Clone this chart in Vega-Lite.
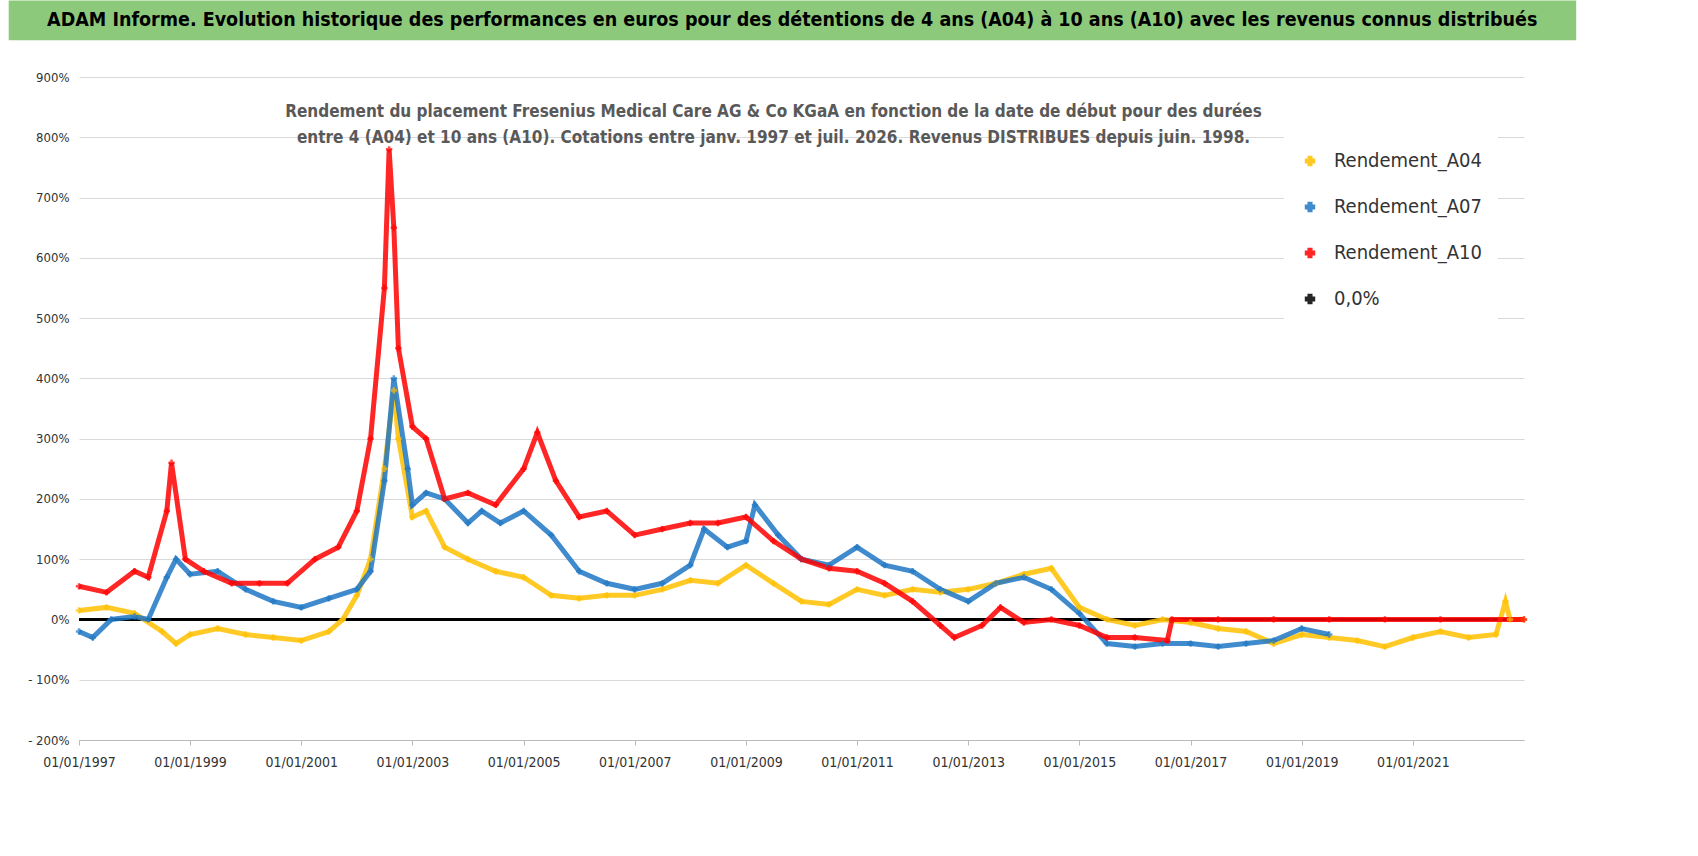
{
  "$schema": "https://vega.github.io/schema/vega-lite/v6.json",
  "background": "white",
  "padding": {"left": 8, "top": 0, "right": 0, "bottom": 0},
  "autosize": {"type": "pad"},
  "width": 1445,
  "height": 663,
  "config": {"font": "DejaVu Sans Condensed", "view": {"stroke": null}},
  "datasets": {
    "pts": [
      {"d":"1997-01-01","s":"Rendement_A04","v":15},{"d":"1997-07-01","s":"Rendement_A04","v":20},{"d":"1998-01-01","s":"Rendement_A04","v":10},{"d":"1998-07-01","s":"Rendement_A04","v":-20},{"d":"1998-10-01","s":"Rendement_A04","v":-40},{"d":"1999-01-01","s":"Rendement_A04","v":-25},{"d":"1999-07-01","s":"Rendement_A04","v":-15},{"d":"2000-01-01","s":"Rendement_A04","v":-25},{"d":"2000-07-01","s":"Rendement_A04","v":-30},{"d":"2001-01-01","s":"Rendement_A04","v":-35},{"d":"2001-07-01","s":"Rendement_A04","v":-20},{"d":"2001-10-01","s":"Rendement_A04","v":0},{"d":"2002-01-01","s":"Rendement_A04","v":40},{"d":"2002-04-01","s":"Rendement_A04","v":100},{"d":"2002-07-01","s":"Rendement_A04","v":250},{"d":"2002-09-01","s":"Rendement_A04","v":380},{"d":"2002-10-01","s":"Rendement_A04","v":300},{"d":"2003-01-01","s":"Rendement_A04","v":170},{"d":"2003-04-01","s":"Rendement_A04","v":180},{"d":"2003-08-01","s":"Rendement_A04","v":120},{"d":"2004-01-01","s":"Rendement_A04","v":100},{"d":"2004-07-01","s":"Rendement_A04","v":80},{"d":"2005-01-01","s":"Rendement_A04","v":70},{"d":"2005-07-01","s":"Rendement_A04","v":40},{"d":"2006-01-01","s":"Rendement_A04","v":35},{"d":"2006-07-01","s":"Rendement_A04","v":40},{"d":"2007-01-01","s":"Rendement_A04","v":40},{"d":"2007-07-01","s":"Rendement_A04","v":50},{"d":"2008-01-01","s":"Rendement_A04","v":65},{"d":"2008-07-01","s":"Rendement_A04","v":60},{"d":"2009-01-01","s":"Rendement_A04","v":90},{"d":"2009-07-01","s":"Rendement_A04","v":60},{"d":"2010-01-01","s":"Rendement_A04","v":30},{"d":"2010-07-01","s":"Rendement_A04","v":25},{"d":"2011-01-01","s":"Rendement_A04","v":50},{"d":"2011-07-01","s":"Rendement_A04","v":40},{"d":"2012-01-01","s":"Rendement_A04","v":50},{"d":"2012-07-01","s":"Rendement_A04","v":45},{"d":"2013-01-01","s":"Rendement_A04","v":50},{"d":"2013-07-01","s":"Rendement_A04","v":60},{"d":"2014-01-01","s":"Rendement_A04","v":75},{"d":"2014-07-01","s":"Rendement_A04","v":85},{"d":"2015-01-01","s":"Rendement_A04","v":20},{"d":"2015-07-01","s":"Rendement_A04","v":0},{"d":"2016-01-01","s":"Rendement_A04","v":-10},{"d":"2016-07-01","s":"Rendement_A04","v":0},{"d":"2017-01-01","s":"Rendement_A04","v":-5},{"d":"2017-07-01","s":"Rendement_A04","v":-15},{"d":"2018-01-01","s":"Rendement_A04","v":-20},{"d":"2018-07-01","s":"Rendement_A04","v":-40},{"d":"2019-01-01","s":"Rendement_A04","v":-25},{"d":"2019-07-01","s":"Rendement_A04","v":-30},{"d":"2020-01-01","s":"Rendement_A04","v":-35},{"d":"2020-07-01","s":"Rendement_A04","v":-45},{"d":"2021-01-01","s":"Rendement_A04","v":-30},{"d":"2021-07-01","s":"Rendement_A04","v":-20},{"d":"2022-01-01","s":"Rendement_A04","v":-30},{"d":"2022-07-01","s":"Rendement_A04","v":-25},{"d":"2022-09-01","s":"Rendement_A04","v":30},{"d":"2022-10-01","s":"Rendement_A04","v":0},{"d":"2023-01-01","s":"Rendement_A04","v":0},

      {"d":"1997-01-01","s":"Rendement_A07","v":-20},{"d":"1997-04-01","s":"Rendement_A07","v":-30},{"d":"1997-08-01","s":"Rendement_A07","v":0},{"d":"1998-01-01","s":"Rendement_A07","v":5},{"d":"1998-04-01","s":"Rendement_A07","v":0},{"d":"1998-08-01","s":"Rendement_A07","v":70},{"d":"1998-10-01","s":"Rendement_A07","v":100},{"d":"1999-01-01","s":"Rendement_A07","v":75},{"d":"1999-07-01","s":"Rendement_A07","v":80},{"d":"2000-01-01","s":"Rendement_A07","v":50},{"d":"2000-07-01","s":"Rendement_A07","v":30},{"d":"2001-01-01","s":"Rendement_A07","v":20},{"d":"2001-07-01","s":"Rendement_A07","v":35},{"d":"2002-01-01","s":"Rendement_A07","v":50},{"d":"2002-04-01","s":"Rendement_A07","v":80},{"d":"2002-07-01","s":"Rendement_A07","v":230},{"d":"2002-09-01","s":"Rendement_A07","v":400},{"d":"2002-12-01","s":"Rendement_A07","v":250},{"d":"2003-01-01","s":"Rendement_A07","v":190},{"d":"2003-04-01","s":"Rendement_A07","v":210},{"d":"2003-08-01","s":"Rendement_A07","v":200},{"d":"2004-01-01","s":"Rendement_A07","v":160},{"d":"2004-04-01","s":"Rendement_A07","v":180},{"d":"2004-08-01","s":"Rendement_A07","v":160},{"d":"2005-01-01","s":"Rendement_A07","v":180},{"d":"2005-07-01","s":"Rendement_A07","v":140},{"d":"2006-01-01","s":"Rendement_A07","v":80},{"d":"2006-07-01","s":"Rendement_A07","v":60},{"d":"2007-01-01","s":"Rendement_A07","v":50},{"d":"2007-07-01","s":"Rendement_A07","v":60},{"d":"2008-01-01","s":"Rendement_A07","v":90},{"d":"2008-04-01","s":"Rendement_A07","v":150},{"d":"2008-09-01","s":"Rendement_A07","v":120},{"d":"2009-01-01","s":"Rendement_A07","v":130},{"d":"2009-03-01","s":"Rendement_A07","v":190},{"d":"2009-08-01","s":"Rendement_A07","v":140},{"d":"2010-01-01","s":"Rendement_A07","v":100},{"d":"2010-07-01","s":"Rendement_A07","v":90},{"d":"2011-01-01","s":"Rendement_A07","v":120},{"d":"2011-07-01","s":"Rendement_A07","v":90},{"d":"2012-01-01","s":"Rendement_A07","v":80},{"d":"2012-07-01","s":"Rendement_A07","v":50},{"d":"2013-01-01","s":"Rendement_A07","v":30},{"d":"2013-07-01","s":"Rendement_A07","v":60},{"d":"2014-01-01","s":"Rendement_A07","v":70},{"d":"2014-07-01","s":"Rendement_A07","v":50},{"d":"2015-01-01","s":"Rendement_A07","v":10},{"d":"2015-07-01","s":"Rendement_A07","v":-40},{"d":"2016-01-01","s":"Rendement_A07","v":-45},{"d":"2016-07-01","s":"Rendement_A07","v":-40},{"d":"2017-01-01","s":"Rendement_A07","v":-40},{"d":"2017-07-01","s":"Rendement_A07","v":-45},{"d":"2018-01-01","s":"Rendement_A07","v":-40},{"d":"2018-07-01","s":"Rendement_A07","v":-35},{"d":"2019-01-01","s":"Rendement_A07","v":-15},{"d":"2019-07-01","s":"Rendement_A07","v":-25},

      {"d":"1997-01-01","s":"Rendement_A10","v":55},{"d":"1997-07-01","s":"Rendement_A10","v":45},{"d":"1998-01-01","s":"Rendement_A10","v":80},{"d":"1998-04-01","s":"Rendement_A10","v":70},{"d":"1998-08-01","s":"Rendement_A10","v":180},{"d":"1998-09-01","s":"Rendement_A10","v":260},{"d":"1998-12-01","s":"Rendement_A10","v":100},{"d":"1999-04-01","s":"Rendement_A10","v":80},{"d":"1999-10-01","s":"Rendement_A10","v":60},{"d":"2000-04-01","s":"Rendement_A10","v":60},{"d":"2000-10-01","s":"Rendement_A10","v":60},{"d":"2001-04-01","s":"Rendement_A10","v":100},{"d":"2001-09-01","s":"Rendement_A10","v":120},{"d":"2002-01-01","s":"Rendement_A10","v":180},{"d":"2002-04-01","s":"Rendement_A10","v":300},{"d":"2002-07-01","s":"Rendement_A10","v":550},{"d":"2002-08-01","s":"Rendement_A10","v":780},{"d":"2002-09-01","s":"Rendement_A10","v":650},{"d":"2002-10-01","s":"Rendement_A10","v":450},{"d":"2003-01-01","s":"Rendement_A10","v":320},{"d":"2003-04-01","s":"Rendement_A10","v":300},{"d":"2003-08-01","s":"Rendement_A10","v":200},{"d":"2004-01-01","s":"Rendement_A10","v":210},{"d":"2004-07-01","s":"Rendement_A10","v":190},{"d":"2005-01-01","s":"Rendement_A10","v":250},{"d":"2005-04-01","s":"Rendement_A10","v":310},{"d":"2005-08-01","s":"Rendement_A10","v":230},{"d":"2006-01-01","s":"Rendement_A10","v":170},{"d":"2006-07-01","s":"Rendement_A10","v":180},{"d":"2007-01-01","s":"Rendement_A10","v":140},{"d":"2007-07-01","s":"Rendement_A10","v":150},{"d":"2008-01-01","s":"Rendement_A10","v":160},{"d":"2008-07-01","s":"Rendement_A10","v":160},{"d":"2009-01-01","s":"Rendement_A10","v":170},{"d":"2009-07-01","s":"Rendement_A10","v":130},{"d":"2010-01-01","s":"Rendement_A10","v":100},{"d":"2010-07-01","s":"Rendement_A10","v":85},{"d":"2011-01-01","s":"Rendement_A10","v":80},{"d":"2011-07-01","s":"Rendement_A10","v":60},{"d":"2012-01-01","s":"Rendement_A10","v":30},{"d":"2012-07-01","s":"Rendement_A10","v":-10},{"d":"2012-10-01","s":"Rendement_A10","v":-30},{"d":"2013-04-01","s":"Rendement_A10","v":-10},{"d":"2013-08-01","s":"Rendement_A10","v":20},{"d":"2014-01-01","s":"Rendement_A10","v":-5},{"d":"2014-07-01","s":"Rendement_A10","v":0},{"d":"2015-01-01","s":"Rendement_A10","v":-10},{"d":"2015-07-01","s":"Rendement_A10","v":-30},{"d":"2016-01-01","s":"Rendement_A10","v":-30},{"d":"2016-08-01","s":"Rendement_A10","v":-35},{"d":"2016-09-01","s":"Rendement_A10","v":0},{"d":"2017-07-01","s":"Rendement_A10","v":0},{"d":"2018-07-01","s":"Rendement_A10","v":0},{"d":"2019-07-01","s":"Rendement_A10","v":0},{"d":"2020-07-01","s":"Rendement_A10","v":0},{"d":"2021-07-01","s":"Rendement_A10","v":0},{"d":"2023-01-01","s":"Rendement_A10","v":0}
    ]
  },
  "layer": [
    {
      "data": {"values": [{"a": "1995-09-27", "b": "2023-12-10", "y1": 1027, "y2": 961}]},
      "mark": {"type": "rect", "color": "#8cc97a", "clip": false},
      "encoding": {
        "x": {"field": "a", "type": "temporal"},
        "x2": {"field": "b"},
        "y": {"field": "y1", "type": "quantitative"},
        "y2": {"field": "y2"}
      }
    },
    {
      "data": {"values": [{"d": "2009-11-01", "v": 994, "t": "ADAM Informe. Evolution historique des performances en euros pour des détentions de 4 ans (A04) à 10 ans (A10) avec les revenus connus distribués"}]},
      "mark": {"type": "text", "fontSize": 19.5, "fontWeight": "bold", "color": "black", "clip": false},
      "encoding": {
        "x": {"field": "d", "type": "temporal"},
        "y": {"field": "v", "type": "quantitative"},
        "text": {"field": "t"}
      }
    },
    {
      "data": {"values": [{"v": 0, "s": "0,0%"}]},
      "mark": {"type": "rule", "strokeWidth": 3},
      "encoding": {
        "y": {"field": "v", "type": "quantitative"},
        "color": {"field": "s", "type": "nominal"}
      }
    },
    {
      "data": {"name": "pts"},
      "mark": {"type": "line", "strokeWidth": 5, "opacity": 0.85},
      "encoding": {
        "x": {"field": "d", "type": "temporal"},
        "y": {"field": "v", "type": "quantitative"},
        "color": {"field": "s", "type": "nominal"},
        "detail": {"field": "s"}
      }
    },
    {
      "data": {"name": "pts"},
      "mark": {"type": "point", "shape": "cross", "filled": true, "size": 40},
      "encoding": {
        "x": {
          "field": "d", "type": "temporal", "title": null,
          "scale": {"domain": ["1997-01-01", "2023-01-01"]},
          "axis": {"values": ["1997-01-01","1999-01-01","2001-01-01","2003-01-01","2005-01-01","2007-01-01","2009-01-01","2011-01-01","2013-01-01","2015-01-01","2017-01-01","2019-01-01","2021-01-01"], "format": "%d/%m/%Y", "grid": false, "labelFontSize": 14, "labelColor": "#333", "domainColor": "#bbb", "tickColor": "#bbb", "labelPadding": 10, "labelOverlap": false, "labelFlush": false, "labelBound": false, "labelAlign": "center"}
        },
        "y": {
          "field": "v", "type": "quantitative", "title": null,
          "scale": {"domain": [-200, 900]},
          "axis": {"values": [-200,-100,0,100,200,300,400,500,600,700,800,900], "labelExpr": "datum.value < 0 ? '- ' + abs(datum.value) + '%' : datum.value + '%'", "gridColor": "#d9d9d9", "domain": false, "ticks": false, "labelFontSize": 13, "labelColor": "#333", "labelPadding": 10, "labelOverlap": false}
        },
        "color": {
          "field": "s", "type": "nominal",
          "scale": {"domain": ["Rendement_A04", "Rendement_A07", "Rendement_A10", "0,0%"], "range": ["#ffc000", "#1f77c4", "#ff0000", "#000000"]},
          "legend": {"title": null, "orient": "none", "legendX": 1205, "legendY": 58, "labelFontSize": 20, "labelColor": "#333", "symbolType": "cross", "symbolSize": 80, "rowPadding": 26, "fillColor": "white", "padding": 16, "labelOffset": 14}
        }
      }
    },
    {
      "data": {"values": [{"d": "2009-07-01", "v": 855, "t": ["Rendement du placement Fresenius Medical Care AG & Co KGaA en fonction de la date de début pour des durées", "entre 4 (A04) et 10 ans (A10). Cotations entre janv. 1997 et juil. 2026. Revenus DISTRIBUES depuis juin. 1998."]}]},
      "mark": {"type": "text", "fontSize": 17, "fontWeight": "bold", "color": "#595959", "lineHeight": 26, "baseline": "top"},
      "encoding": {
        "x": {"field": "d", "type": "temporal"},
        "y": {"field": "v", "type": "quantitative"},
        "text": {"field": "t"}
      }
    }
  ]
}
